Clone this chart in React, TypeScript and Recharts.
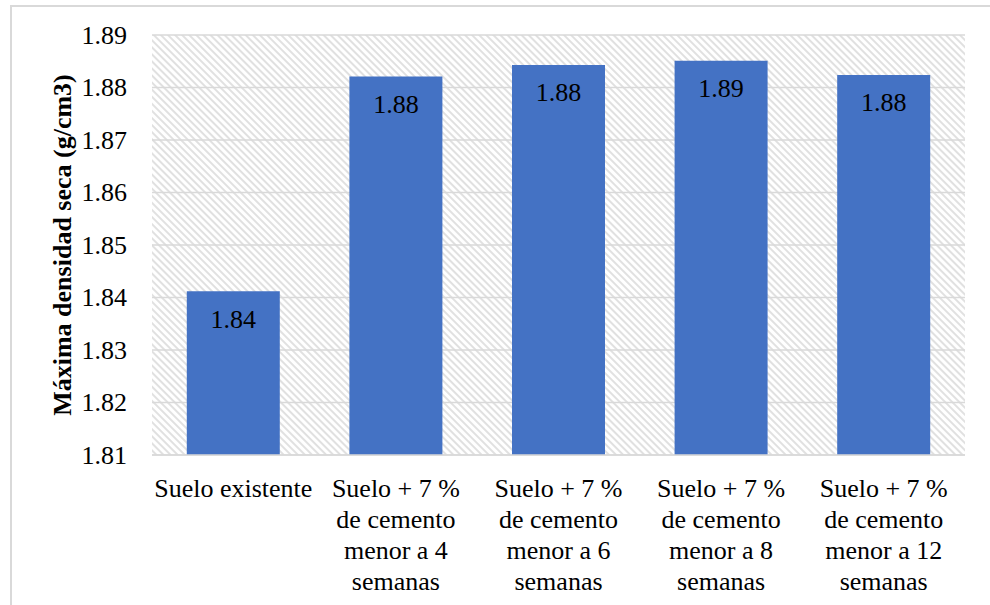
import React from 'react';
import { BarChart, Bar, XAxis, YAxis, CartesianGrid, LabelList } from 'recharts';

const categorias = [
  'Suelo existente',
  'Suelo + 7 % de cemento menor a 4 semanas',
  'Suelo + 7 % de cemento menor a 6 semanas',
  'Suelo + 7 % de cemento menor a 8 semanas',
  'Suelo + 7 % de cemento menor a 12 semanas',
];

// etiquetas del eje X partidas en renglones
const etiquetasEje = [
  ['Suelo existente'],
  ['Suelo + 7 %', 'de cemento', 'menor a 4', 'semanas'],
  ['Suelo + 7 %', 'de cemento', 'menor a 6', 'semanas'],
  ['Suelo + 7 %', 'de cemento', 'menor a 8', 'semanas'],
  ['Suelo + 7 %', 'de cemento', 'menor a 12', 'semanas'],
];

const densidadSeca = [1.8412, 1.8821, 1.8843, 1.8851, 1.8824];

const yTicks = [1.81, 1.82, 1.83, 1.84, 1.85, 1.86, 1.87, 1.88, 1.89];

const data = categorias.map((nombre, i) => ({
  nombre,
  densidad: densidadSeca[i],
}));

const FONT = '"Liberation Serif", "Times New Roman", serif';
const GRIS = '#d9d9d9';
const txt = { fontFamily: FONT, fill: '#000' };

function TickCategoria(props: any) {
  const { x, y, index } = props;
  const lineas = etiquetasEje[index] || [];
  return (
    <text x={x} y={y} textAnchor="middle" fontSize={26} style={txt}>
      {lineas.map((l, i) => (
        <tspan key={i} x={x} dy={i === 0 ? 34 : 31}>
          {l}
        </tspan>
      ))}
    </text>
  );
}

function TickValor(props: any) {
  const { x, y, payload } = props;
  return (
    <text x={x} y={y} textAnchor="end" dominantBaseline="central" fontSize={26} style={txt}>
      {Number(payload.value).toFixed(2)}
    </text>
  );
}

function TituloEjeY(props: any) {
  const { viewBox } = props;
  const cx = viewBox.x + viewBox.width / 2 - 14;
  const cy = viewBox.y + viewBox.height / 2;
  return (
    <text
      x={cx}
      y={cy}
      transform={`rotate(-90, ${cx}, ${cy})`}
      textAnchor="middle"
      dominantBaseline="central"
      fontSize={26}
      fontWeight="bold"
      style={txt}
    >
      Máxima densidad seca (g/cm3)
    </text>
  );
}

function EtiquetaBarra(props: any) {
  const { x, y, width, value } = props;
  return (
    <text x={x + width / 2} y={y + 28} textAnchor="middle" dominantBaseline="central" fontSize={26} style={txt}>
      {Number(value).toFixed(2)}
    </text>
  );
}

export default function App() {
  return (
    <div
      style={{
        position: 'absolute',
        left: 0,
        top: 0,
        width: 990,
        height: 605,
        overflow: 'hidden',
        background: '#fff',
        fontFamily: FONT,
      }}
    >
      <svg width={0} height={0} style={{ position: 'absolute' }}>
        <defs>
          <pattern id="rayado" width={5} height={5} patternUnits="userSpaceOnUse" patternTransform="rotate(45)">
            <line x1={0} y1={1} x2={5} y2={1} stroke={GRIS} strokeWidth={1.6} />
          </pattern>
        </defs>
      </svg>
      <div
        style={{
          position: 'absolute',
          left: 10,
          top: 5,
          width: 1000,
          height: 700,
          borderLeft: `2px solid ${GRIS}`,
          borderTop: `2px solid ${GRIS}`,
        }}
      />
      <div style={{ position: 'absolute', left: 0, top: 0 }}>
        <BarChart
          width={990}
          height={605}
          data={data}
          margin={{ top: 35, right: 25, bottom: 0, left: 0 }}
          barCategoryGap="21.4%"
        >
          <CartesianGrid vertical={false} stroke={GRIS} strokeWidth={1.5} fill="url(#rayado)" />
          <XAxis
            dataKey="nombre"
            height={150}
            axisLine={{ stroke: GRIS, strokeWidth: 1.5 }}
            tickLine={false}
            tickSize={0}
            tickMargin={8}
            interval={0}
            tick={<TickCategoria />}
          />
          <YAxis
            width={152}
            domain={[1.81, 1.89]}
            ticks={yTicks}
            interval={0}
            axisLine={false}
            tickLine={false}
            tickSize={0}
            tickMargin={25}
            tick={<TickValor />}
            label={<TituloEjeY />}
          />
          <Bar dataKey="densidad" fill="#4472c4" isAnimationActive={false}>
            <LabelList dataKey="densidad" content={<EtiquetaBarra />} />
          </Bar>
        </BarChart>
      </div>
    </div>
  );
}
